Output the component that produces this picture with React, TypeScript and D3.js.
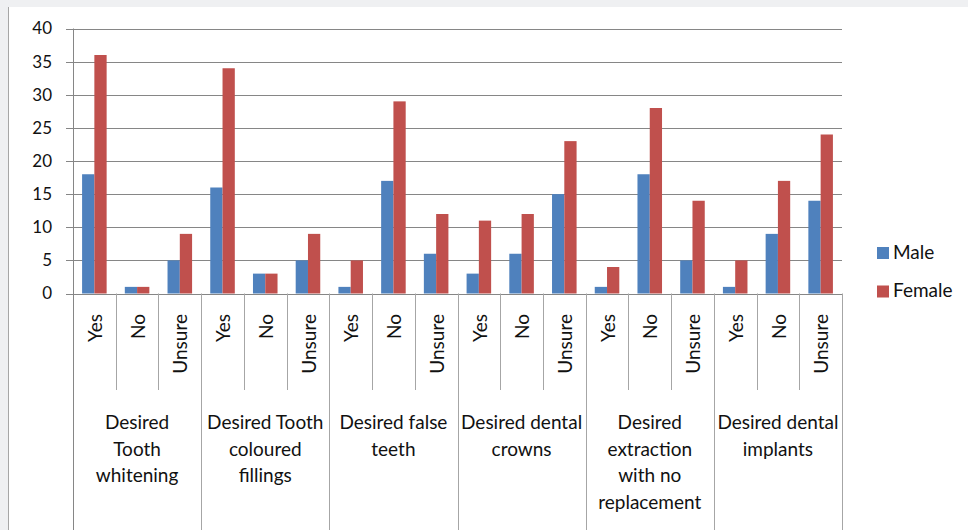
import React, { useRef, useEffect } from 'react';
import * as d3 from 'd3';

// answers per question group
const groups = [
  ['Desired', 'Tooth', 'whitening'],
  ['Desired Tooth', 'coloured', 'fillings'],
  ['Desired false', 'teeth'],
  ['Desired dental', 'crowns'],
  ['Desired', 'extraction', 'with no', 'replacement'],
  ['Desired dental', 'implants'],
];
const answers = ['Yes', 'No', 'Unsure'];

const male = [18, 1, 5, 16, 3, 5, 1, 17, 6, 3, 6, 15, 1, 18, 5, 1, 9, 14];
const female = [36, 1, 9, 34, 3, 9, 5, 29, 12, 11, 12, 23, 4, 28, 14, 5, 17, 24];

const seriesNames = ['Male', 'Female'];
const colors = ['#4f81bd', '#c0504d'];
const yTicks = [0, 5, 10, 15, 20, 25, 30, 35, 40];

const FONT = 'Lato, "Open Sans", sans-serif';

const App = () => {
  const chartRef = useRef<SVGSVGElement>(null);

  useEffect(() => {
    const svg = d3.select(chartRef.current);
    svg.selectAll('*').remove();

    // page background + white chart area
    svg.append('rect').attr('width', 968).attr('height', 530).attr('fill', '#eff0f2');
    svg.append('rect').attr('x', 9).attr('y', 7).attr('width', 959).attr('height', 523).attr('fill', '#fff');
    svg.append('line')
      .attr('x1', 8.5).attr('x2', 8.5).attr('y1', 7).attr('y2', 530)
      .attr('stroke', '#a6a6a6');

    const keys = d3.range(male.length).map(i => `${i}`);
    const x = d3.scaleBand().domain(keys).range([73, 842]).padding(0);
    const xInner = d3.scaleBand().domain(seriesNames).range([0, x.bandwidth()])
      .paddingInner(0).paddingOuter(0.74);
    const y = d3.scaleLinear().domain([0, 40]).range([293.5, 28.5]);

    // gridlines
    svg.append('g').selectAll('line')
      .data(yTicks)
      .enter()
      .append('line')
      .attr('x1', 66).attr('x2', 842)
      .attr('y1', d => Math.round(y(d)) + 0.5)
      .attr('y2', d => Math.round(y(d)) + 0.5)
      .attr('stroke', '#868686');

    // y axis
    svg.append('line')
      .attr('x1', 73.5).attr('x2', 73.5).attr('y1', y(40)).attr('y2', 530)
      .attr('stroke', '#868686');

    svg.append('g').selectAll('text')
      .data(yTicks)
      .enter()
      .append('text')
      .attr('x', 52)
      .attr('y', d => y(d))
      .attr('dy', '0.35em')
      .attr('text-anchor', 'end')
      .attr('font-family', FONT)
      .attr('font-size', 17)
      .attr('fill', '#111')
      .text(d => d);

    // category separators
    const bounds = d3.range(1, keys.length + 1);
    svg.append('g').selectAll('line')
      .data(bounds)
      .enter()
      .append('line')
      .attr('x1', i => Math.round(x.step() * i + 73) + 0.5)
      .attr('x2', i => Math.round(x.step() * i + 73) + 0.5)
      .attr('y1', y(0))
      .attr('y2', i => (i % 3 === 0 ? 530 : 390))
      .attr('stroke', '#a6a6a6');

    // bars
    const series = [male, female];
    series.forEach((vals, s) => {
      svg.append('g').selectAll('rect')
        .data(vals)
        .enter()
        .append('rect')
        .attr('x', (d, i) => (x(keys[i]) as number) + (xInner(seriesNames[s]) as number))
        .attr('y', d => y(d))
        .attr('width', xInner.bandwidth())
        .attr('height', d => y(0) - y(d))
        .attr('fill', colors[s])
        .append('title')
        .text(d => `${seriesNames[s]}: ${d}`);
    });

    // answer labels
    svg.append('g').selectAll('text')
      .data(keys)
      .enter()
      .append('text')
      .attr('transform', d => `translate(${(x(d) as number) + x.bandwidth() / 2 + 1}, 314) rotate(-90)`)
      .attr('dy', '0.35em')
      .attr('text-anchor', 'end')
      .attr('font-family', FONT)
      .attr('font-size', 19)
      .attr('fill', '#111')
      .text((d, i) => answers[i % 3]);

    // group labels
    const groupW = x.step() * 3;
    groups.forEach((lines, g) => {
      svg.append('text')
        .attr('x', 73 + groupW * g + groupW / 2)
        .attr('y', 429)
        .attr('text-anchor', 'middle')
        .attr('font-family', FONT)
        .attr('font-size', 19)
        .attr('fill', '#111')
        .selectAll('tspan')
        .data(lines)
        .enter()
        .append('tspan')
        .attr('x', 73 + groupW * g + groupW / 2)
        .attr('dy', (d, i) => (i === 0 ? 0 : 26.5))
        .text(d => d);
    });

    // legend
    seriesNames.forEach((name, i) => {
      const ly = 247 + i * 38.5;
      svg.append('rect')
        .attr('x', 877).attr('y', ly).attr('width', 12).attr('height', 12)
        .attr('fill', colors[i]);
      svg.append('text')
        .attr('x', 893).attr('y', ly + 11.5)
        .attr('font-family', FONT)
        .attr('font-size', 19)
        .attr('fill', '#111')
        .text(name);
    });
  }, []);

  return (
    <svg
      ref={chartRef}
      width={968}
      height={530}
      style={{ position: 'absolute', left: 0, top: 0 }}
    ></svg>
  );
};

export default App;
